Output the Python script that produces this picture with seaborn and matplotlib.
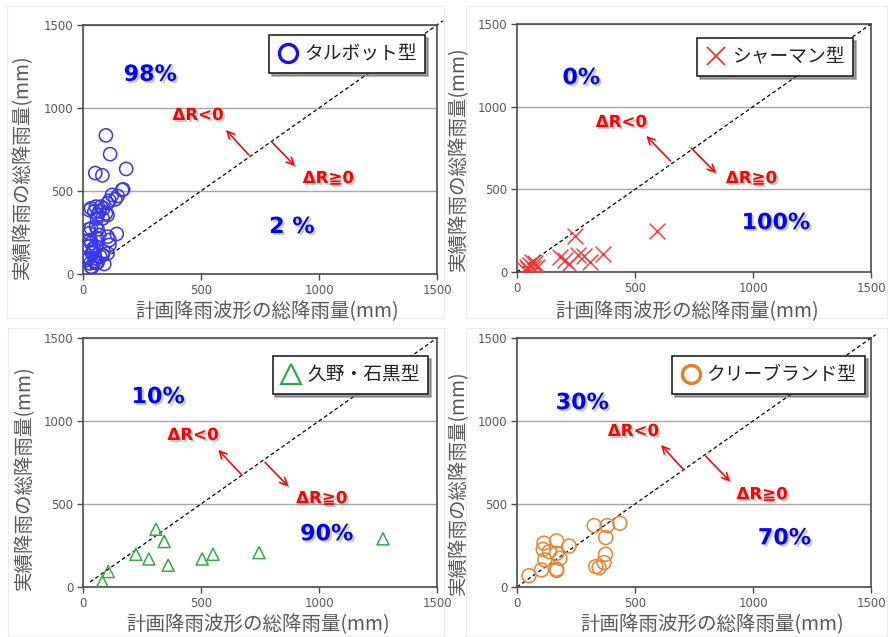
import matplotlib
matplotlib.use("Agg")
import matplotlib.pyplot as plt
import matplotlib.patheffects as pe
from matplotlib.lines import Line2D
import seaborn as sns
import pandas as pd

# ---- data: planned vs. observed total rainfall (mm) ----
talbot_x = [97, 115, 52, 82, 183, 166, 170, 147, 123, 112, 104, 137,
            34, 55, 76, 48, 69, 97, 62, 83, 87, 104, 27, 59,
            34, 55, 24, 62, 27, 69, 112, 143, 112, 104, 87,
            34, 55, 41, 27, 13, 48, 34, 62, 90, 83, 104, 31, 59, 24, 45, 38, 31, 52, 73, 56, 38]
talbot_y = [835, 722, 608, 594, 633, 506, 510, 470, 476, 442, 426, 450,
            396, 406, 406, 376, 376, 365, 355, 335, 396, 355, 385, 335,
            275, 285, 269, 269, 245, 235, 205, 241, 175, 225, 135,
            185, 165, 135, 95, 84, 74, 44, 70, 60, 115, 124, 205, 215, 165, 155, 125, 64, 94, 104, 66, 40]

sherman_x = [592, 246, 182, 203, 222, 260, 284, 309, 366, 41, 55, 76, 83, 34, 69, 62, 48]
sherman_y = [250, 218, 93, 73, 48, 103, 97, 63, 109, 32, 42, 52, 32, 12, 22, 60, 20]

kuno_x = [309, 344, 224, 279, 361, 505, 551, 746, 1271, 107, 82]
kuno_y = [348, 274, 197, 169, 131, 169, 197, 207, 290, 93, 32]

cleveland_x = [51, 104, 114, 111, 168, 137, 168, 118, 182, 168, 168, 221,
               327, 382, 436, 376, 375, 369, 334, 348]
cleveland_y = [68, 103, 264, 227, 278, 213, 203, 163, 173, 107, 99, 247,
               370, 370, 384, 298, 197, 147, 123, 117]

series_names = ["タルボット型", "シャーマン型", "久野・石黒型", "クリーブランド型"]
pct_above = ["98%", "0%", "10%", "30%"]
pct_below = ["2 %", "100%", "90%", "70%"]
axis_ticks = [0, 500, 1000, 1500]
x_label = "計画降雨波形の総降雨量(mm)"
y_label = "実績降雨の総降雨量(mm)"

sns.set_theme(style="white")
plt.rcParams["font.family"] = ["DejaVu Sans", "Noto Sans CJK JP"]
JP = ["Noto Sans CJK JP", "DejaVu Sans"]

fig = plt.figure(figsize=(8.88, 6.37), dpi=100)
W, H = 888, 637


def add_axes_px(left, top, right, bottom):
    return fig.add_axes([left / W, 1 - bottom / H, (right - left) / W, (bottom - top) / H])


panels = [
    dict(rect=(83, 25, 437, 274), x=talbot_x, y=talbot_y, marker="o", color="#3535f5",
         filled=False, s=90, lw=1.1, diag=(30, 1525),
         lmarker=dict(marker="o", ms=13, mew=2.4, mfc="none", mec="#1010ff"),
         leg=(0.966, 0.960), pa=(285, 1200), pb=(885, 283),
         r1=(487, 958), r2=(1039, 578), a1=((703, 717), (606, 867)), a2=((800, 795), (898, 651)),
         ylab=(-0.172, 0.43), xlab=(0.52, -0.153)),
    dict(rect=(517, 24, 871, 272), x=sherman_x, y=sherman_y, marker="x", color="#ff3030",
         filled=True, s=130, lw=1.0, diag=(0, 1500),
         lmarker=dict(marker="x", ms=13, mew=1.2, color="#ff2020"),
         leg=(0.949, 0.944), pa=(273, 1173), pb=(1098, 296),
         r1=(442, 907), r2=(993, 568), a1=((650, 672), (548, 823)), a2=((738, 750), (843, 599)),
         ylab=(-0.164, 0.456), xlab=(0.48, -0.16)),
    dict(rect=(83, 338, 437, 587), x=kuno_x, y=kuno_y, marker="^", color="#33aa44",
         filled=False, s=75, lw=1.1, diag=(30, 1500),
         lmarker=dict(marker="^", ms=14, mew=1.5, mfc="none", mec="#22aa44"),
         leg=(0.975, 0.928), pa=(319, 1144), pb=(1033, 318),
         r1=(466, 916), r2=(1011, 535), a1=((673, 675), (573, 826)), a2=((771, 751), (870, 606)),
         ylab=(-0.164, 0.44), xlab=(0.495, -0.15)),
    dict(rect=(517, 338, 871, 587), x=cleveland_x, y=cleveland_y, marker="o", color="#e8832e",
         filled=False, s=100, lw=1.1, diag=(0, 1520),
         lmarker=dict(marker="o", ms=13, mew=2.4, mfc="none", mec="#e67e22"),
         leg=(0.983, 0.928), pa=(277, 1108), pb=(1134, 293),
         r1=(493, 940), r2=(1038, 559), a1=((704, 710), (610, 855)), a2=((800, 787), (903, 636)),
         ylab=(-0.164, 0.42), xlab=(0.55, -0.15)),
]

shadow_txt = [pe.withSimplePatchShadow(offset=(1.5, -1.5), shadow_rgbFace="#888888", alpha=0.45)]
shadow_line = [pe.SimpleLineShadow(offset=(1.2, -1.2), shadow_color="#888888", alpha=0.4), pe.Normal()]
spine_col = "#4a4a4a"
tick_col = "#595959"

for i, p in enumerate(panels):
    ax = add_axes_px(*p["rect"])
    df = pd.DataFrame({"plan": p["x"], "obs": p["y"]})
    if p["filled"]:
        sns.scatterplot(data=df, x="plan", y="obs", ax=ax, marker=p["marker"], color=p["color"],
                        s=p["s"], linewidth=p["lw"], zorder=3, legend=False)
    else:
        sns.scatterplot(data=df, x="plan", y="obs", ax=ax, marker=p["marker"], facecolors="none",
                        edgecolor=p["color"], s=p["s"], linewidth=p["lw"], zorder=3, legend=False)

    d0, d1 = p["diag"]
    ax.plot([d0, d1], [d0, d1], ls=(0, (3, 2.2)), color="black", lw=0.9, zorder=2, clip_on=False)

    ax.set_xlim(0, 1500)
    ax.set_ylim(0, 1500)
    ax.set_xticks(axis_ticks)
    ax.set_yticks(axis_ticks)
    ax.yaxis.grid(True, color="#a6a6a6", lw=1.0)
    ax.xaxis.grid(False)
    ax.set_axisbelow(True)
    for sp in ax.spines.values():
        sp.set_visible(True)
        sp.set_color(spine_col)
        sp.set_linewidth(1.2)
    ax.tick_params(axis="both", which="major", direction="out", length=4, width=1,
                   color=spine_col, labelsize=8.5, labelcolor=tick_col, pad=3,
                   bottom=True, left=True)

    ax.set_xlabel(x_label, family=JP, fontsize=14, color=tick_col, va="center", ha="center")
    ax.set_ylabel(y_label, family=JP, fontsize=14, color=tick_col, va="center", ha="center")
    ax.xaxis.set_label_coords(*p["xlab"])
    ax.yaxis.set_label_coords(*p["ylab"])

    # share of events above / below the 1:1 line
    ax.text(*p["pa"], pct_above[i], color="#0000ff", fontsize=16, fontweight="bold",
            ha="center", va="center", path_effects=shadow_txt, zorder=5)
    ax.text(*p["pb"], pct_below[i], color="#0000ff", fontsize=16, fontweight="bold",
            ha="center", va="center", path_effects=shadow_txt, zorder=5)
    ax.text(*p["r1"], "ΔR<0", color="#ff0000", fontsize=12, fontweight="bold",
            ha="center", va="center", path_effects=shadow_txt, zorder=5)
    ax.text(*p["r2"], "ΔR≧0", color="#ff0000", fontsize=12, fontweight="bold",
            ha="center", va="center", path_effects=shadow_txt, zorder=5,
            family=["DejaVu Sans", "Noto Sans CJK JP"])
    for tail, head in (p["a1"], p["a2"]):
        ax.annotate("", xy=head, xytext=tail,
                    arrowprops=dict(arrowstyle="->", color="#ff0000", lw=1.1, mutation_scale=13,
                                    shrinkA=0, shrinkB=0, path_effects=shadow_line),
                    zorder=5)

    handle = Line2D([], [], ls="none", **p["lmarker"])
    leg = ax.legend([handle], [series_names[i]], loc="upper right", bbox_to_anchor=p["leg"],
                    borderaxespad=0, frameon=True, fancybox=False, shadow=True,
                    prop=dict(family=JP, size=13.5), handlelength=1.1, handletextpad=0.3,
                    borderpad=0.45, labelcolor="#222222")
    leg.get_frame().set_edgecolor("#111111")
    leg.get_frame().set_linewidth(1.1)
    leg.get_frame().set_facecolor("white")
    leg.set_zorder(6)

# faint frames of the four chart tiles
for (l, t, r, b) in [(7, 6, 444, 318), (466, 6, 887, 318), (8, 328, 444, 636), (466, 328, 887, 636)]:
    xs = [l / W, r / W, r / W, l / W, l / W]
    ys = [1 - t / H, 1 - t / H, 1 - b / H, 1 - b / H, 1 - t / H]
    fig.add_artist(Line2D(xs, ys, color="#ececec", lw=0.8, zorder=0))

fig.savefig("out.png", dpi=100, facecolor="white")
